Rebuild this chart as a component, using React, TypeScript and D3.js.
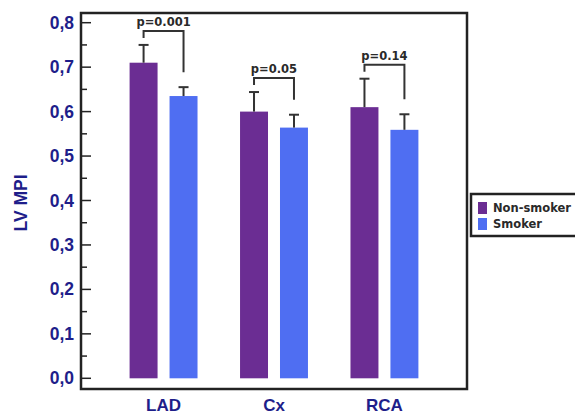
import React, { useEffect, useRef } from "react";
import * as d3 from "d3";

// chart data
const regions = ["LAD", "Cx", "RCA"];
const groups = ["Non-smoker", "Smoker"];
const nonSmokerMean = [0.71, 0.6, 0.61];
const nonSmokerSd = [0.04, 0.044, 0.064];
const smokerMean = [0.635, 0.564, 0.559];
const smokerSd = [0.02, 0.029, 0.035];
const pValues = ["p=0.001", "p=0.05", "p=0.14"];
const yTicks = [0, 0.1, 0.2, 0.3, 0.4, 0.5, 0.6, 0.7, 0.8];

const colors = { "Non-smoker": "#6b2d93", Smoker: "#4f6ef2" };
const navy = "#1e1e8a";
const axisFont = "Liberation Sans, Arial, sans-serif";
const noteFont = "DejaVu Sans, Verdana, sans-serif";

const App = () => {
  const ref = useRef<SVGSVGElement>(null);

  useEffect(() => {
    const svg = d3.select(ref.current);
    svg.selectAll("*").remove();

    const left = 81;
    const right = 467;
    const top = 13;
    const bottom = 389;

    const y = d3.scaleLinear().domain([0, 0.8]).range([378.3, 22.7]);
    const x0 = d3
      .scaleBand()
      .domain(regions)
      .range([left, right])
      .paddingInner(0.385)
      .paddingOuter(0.44);
    const x1 = d3.scaleBand().domain(groups).range([0, x0.bandwidth()]).paddingInner(0.3);

    const rows = regions.map((r, i) => ({
      region: r,
      p: pValues[i],
      bars: [
        { g: "Non-smoker", mean: nonSmokerMean[i], sd: nonSmokerSd[i] },
        { g: "Smoker", mean: smokerMean[i], sd: smokerSd[i] },
      ],
    }));

    // frame
    svg
      .append("rect")
      .attr("x", left)
      .attr("y", top)
      .attr("width", right - left)
      .attr("height", bottom - top)
      .attr("fill", "none")
      .attr("stroke", "#222")
      .attr("stroke-width", 2.5);

    // y ticks, major + minor
    const minor = d3.range(0.05, 0.8, 0.1);
    svg
      .append("g")
      .selectAll("line")
      .data(yTicks)
      .enter()
      .append("line")
      .attr("x1", left)
      .attr("x2", left + 10)
      .attr("y1", (d) => y(d))
      .attr("y2", (d) => y(d))
      .attr("stroke", "#222")
      .attr("stroke-width", 1.5);
    svg
      .append("g")
      .selectAll("line")
      .data(minor)
      .enter()
      .append("line")
      .attr("x1", left)
      .attr("x2", left + 6)
      .attr("y1", (d) => y(d))
      .attr("y2", (d) => y(d))
      .attr("stroke", "#222")
      .attr("stroke-width", 1.5);
    svg
      .append("g")
      .selectAll("text")
      .data(yTicks)
      .enter()
      .append("text")
      .attr("x", 74)
      .attr("y", (d) => y(d) + 6)
      .attr("text-anchor", "end")
      .attr("font-family", axisFont)
      .attr("font-weight", "bold")
      .attr("font-size", 17.5)
      .attr("fill", navy)
      .text((d) => d3.format(".1f")(d).replace(".", ","));

    // y title
    svg
      .append("text")
      .attr("transform", "translate(27,203) rotate(-90)")
      .attr("text-anchor", "middle")
      .attr("font-family", axisFont)
      .attr("font-weight", "bold")
      .attr("font-size", 17.5)
      .attr("fill", navy)
      .text("LV MPI");

    // x labels
    svg
      .append("g")
      .selectAll("text")
      .data(regions)
      .enter()
      .append("text")
      .attr("x", (d) => x0(d)! + x0.bandwidth() / 2)
      .attr("y", 411)
      .attr("text-anchor", "middle")
      .attr("font-family", axisFont)
      .attr("font-weight", "bold")
      .attr("font-size", 17)
      .attr("fill", navy)
      .text((d) => d);

    const grp = svg
      .append("g")
      .selectAll("g")
      .data(rows)
      .enter()
      .append("g")
      .attr("transform", (d) => `translate(${x0(d.region)},0)`);

    // bars
    grp
      .selectAll("rect")
      .data((d) => d.bars)
      .enter()
      .append("rect")
      .attr("x", (d) => x1(d.g)!)
      .attr("y", (d) => y(d.mean))
      .attr("width", x1.bandwidth())
      .attr("height", (d) => y(0) - y(d.mean))
      .attr("fill", (d) => colors[d.g]);

    // error bars (upper half only)
    const cx = (g: string) => x1(g)! + x1.bandwidth() / 2;
    grp
      .selectAll("line.err")
      .data((d) => d.bars)
      .enter()
      .append("line")
      .attr("x1", (d) => cx(d.g))
      .attr("x2", (d) => cx(d.g))
      .attr("y1", (d) => y(d.mean))
      .attr("y2", (d) => y(d.mean + d.sd))
      .attr("stroke", "#333")
      .attr("stroke-width", 2);
    grp
      .selectAll("line.cap")
      .data((d) => d.bars)
      .enter()
      .append("line")
      .attr("x1", (d) => cx(d.g) - 5)
      .attr("x2", (d) => cx(d.g) + 5)
      .attr("y1", (d) => y(d.mean + d.sd))
      .attr("y2", (d) => y(d.mean + d.sd))
      .attr("stroke", "#333")
      .attr("stroke-width", 2);

    // significance brackets
    grp.each(function (d) {
      const g = d3.select(this);
      const a = d.bars[0];
      const b = d.bars[1];
      const ya = y(a.mean + a.sd);
      const yb = y(b.mean + b.sd);
      const yTop = Math.min(ya, yb) - 14;
      g.append("path")
        .attr("d", `M${cx(a.g)},${ya - 7}V${yTop}H${cx(b.g)}V${yb - 15}`)
        .attr("fill", "none")
        .attr("stroke", "#333")
        .attr("stroke-width", 2);
      g.append("text")
        .attr("x", (cx(a.g) + cx(b.g)) / 2)
        .attr("y", yTop - 5)
        .attr("text-anchor", "middle")
        .attr("font-family", noteFont)
        .attr("font-weight", "bold")
        .attr("font-size", 11.5)
        .attr("fill", "#2a2a2a")
        .text(d.p);
    });

    // legend
    const lg = svg.append("g").attr("transform", "translate(471,194)");
    lg.append("rect")
      .attr("width", 120)
      .attr("height", 42)
      .attr("fill", "white")
      .attr("stroke", "#222")
      .attr("stroke-width", 2.5);
    groups.forEach((gname, i) => {
      lg.append("rect")
        .attr("x", 7)
        .attr("y", 8 + i * 16)
        .attr("width", 9)
        .attr("height", 12)
        .attr("fill", colors[gname]);
      lg.append("text")
        .attr("x", 22)
        .attr("y", 18 + i * 16)
        .attr("font-family", noteFont)
        .attr("font-weight", "bold")
        .attr("font-size", 11.5)
        .attr("fill", "#2a2a2a")
        .text(gname);
    });
  }, []);

  return (
    <svg
      ref={ref}
      width={575}
      height={417}
      style={{ position: "absolute", left: 0, top: 0, background: "white" }}
    />
  );
};

export default App;
